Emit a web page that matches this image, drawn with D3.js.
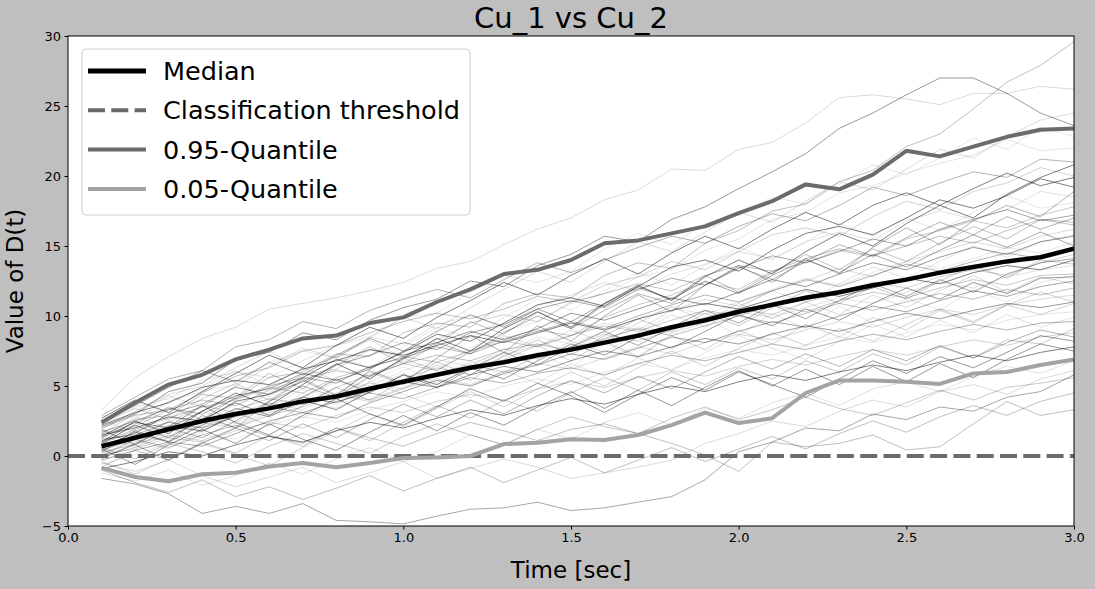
<!DOCTYPE html>
<html>
<head>
<meta charset="utf-8">
<script src="https://cdn.jsdelivr.net/npm/d3@7"></script>
<style>
  html, body { margin: 0; padding: 0; background: #bfbfbf; }
  svg { display: block; font-family: "DejaVu Sans", sans-serif; }
</style>
</head>
<body>
<svg id="chart"></svg>
<script>
// time grid of every simulated run (sec)
const times = [0.1, 0.2, 0.3, 0.4, 0.5, 0.6, 0.7, 0.8, 0.9, 1.0,
  1.1, 1.2, 1.3, 1.4, 1.5, 1.6, 1.7, 1.8, 1.9, 2.0,
  2.1, 2.2, 2.3, 2.4, 2.5, 2.6, 2.7, 2.8, 2.9, 3.0];

const medianValues = [0.7, 1.3, 1.9, 2.5, 3.0, 3.4, 3.9, 4.25, 4.8, 5.3,
  5.8, 6.3, 6.7, 7.2, 7.6, 8.1, 8.6, 9.2, 9.7, 10.3,
  10.8, 11.3, 11.7, 12.2, 12.6, 13.1, 13.5, 13.9, 14.2, 14.8];

const q95Values = [2.4, 3.8, 5.1, 5.8, 6.9, 7.6, 8.4, 8.6, 9.5, 9.9,
  11.0, 11.9, 13.0, 13.3, 14.0, 15.2, 15.4, 15.9, 16.4, 17.35,
  18.2, 19.4, 19.05, 20.1, 21.8, 21.4, 22.1, 22.8, 23.3, 23.4];

const q05Values = [-0.85, -1.5, -1.8, -1.3, -1.2, -0.75, -0.5, -0.8, -0.5, -0.15,
  -0.1, 0.0, 0.85, 0.95, 1.2, 1.15, 1.5, 2.2, 3.1, 2.35,
  2.7, 4.5, 5.4, 5.4, 5.3, 5.15, 5.9, 6.0, 6.5, 6.9];

const thresholdValue = 0;

const runs = [
  [1.4, 2.6, 2.9, 4.4, 4.1, 5.6, 6.0, 7.3, 7.1, 8.8, 9.5, 9.2, 10.9, 11.6, 11.3, 12.9, 13.8, 13.4, 15.2, 16.1, 17.5, 18.0, 19.6, 20.4, 22.1, 23.0, 24.8, 26.7, 27.9, 29.6],
  [3.3, 5.6, 7.1, 8.4, 9.2, 10.5, 10.9, 11.3, 11.8, 12.4, 13.4, 13.9, 15.1, 16.2, 17.0, 18.3, 19.0, 20.5, 20.4, 21.9, 22.4, 23.8, 25.6, 25.8, 25.5, 25.1, 25.9, 25.9, 26.4, 26.2],
  [2.1, 3.0, 4.6, 5.2, 6.9, 7.4, 8.8, 8.3, 9.7, 10.6, 11.2, 12.5, 12.1, 13.6, 14.4, 15.7, 15.3, 16.9, 17.8, 19.1, 20.3, 21.6, 23.4, 24.5, 25.8, 27.0, 27.0, 25.9, 24.5, 23.6],
  [1.8, 2.2, 3.9, 4.6, 5.1, 6.7, 7.5, 7.0, 8.4, 9.9, 10.2, 11.7, 12.9, 12.4, 13.2, 14.8, 15.9, 15.1, 16.6, 17.2, 18.5, 18.0, 19.4, 20.8, 20.1, 21.3, 22.7, 21.9, 23.5, 22.8],
  [2.9, 4.2, 5.5, 6.1, 7.8, 8.3, 9.6, 9.1, 10.4, 11.2, 11.9, 11.3, 12.6, 13.8, 13.1, 14.0, 14.9, 15.7, 15.2, 16.4, 17.3, 16.8, 17.9, 19.2, 18.6, 19.5, 20.3, 19.9, 21.2, 21.0],
  [0.9, 1.8, 2.4, 3.6, 3.1, 4.5, 5.8, 6.2, 7.6, 7.1, 8.3, 9.5, 10.1, 9.6, 11.0, 12.2, 12.8, 13.9, 13.3, 14.6, 15.8, 16.3, 15.7, 17.1, 18.2, 17.6, 18.9, 19.5, 20.6, 20.0],
  [1.5, 2.0, 2.8, 2.5, 3.9, 4.4, 5.6, 6.9, 6.3, 7.4, 8.7, 8.2, 9.5, 10.8, 11.3, 10.7, 12.1, 13.5, 14.0, 13.2, 14.7, 15.9, 16.4, 15.8, 17.0, 18.3, 17.7, 18.6, 19.8, 19.2],
  [2.4, 3.5, 4.1, 5.4, 6.0, 5.6, 6.8, 7.9, 8.5, 8.0, 9.4, 10.0, 9.3, 10.7, 11.5, 12.4, 11.8, 13.0, 13.7, 14.6, 14.1, 15.3, 16.0, 15.4, 16.8, 17.5, 16.9, 17.6, 18.9, 18.5],
  [0.4, 1.3, 2.2, 2.0, 3.3, 4.1, 3.7, 4.9, 5.8, 6.6, 6.1, 7.5, 8.4, 9.0, 8.6, 9.9, 10.8, 11.5, 12.4, 11.9, 13.2, 13.8, 14.7, 14.2, 15.5, 16.1, 16.8, 16.3, 17.2, 17.8],
  [1.1, 1.6, 3.0, 3.7, 4.9, 4.4, 5.3, 6.5, 7.2, 8.1, 7.6, 8.8, 9.4, 10.5, 11.1, 10.6, 11.9, 12.7, 12.2, 13.4, 14.3, 13.8, 14.6, 15.5, 15.0, 16.2, 16.9, 17.6, 16.8, 17.2],
  [2.0, 2.9, 3.3, 4.5, 5.7, 6.3, 7.5, 7.9, 8.8, 9.6, 10.2, 9.8, 10.5, 11.4, 11.0, 11.6, 12.3, 11.8, 12.9, 13.6, 13.2, 14.1, 14.8, 14.3, 15.0, 15.7, 15.2, 16.1, 16.9, 16.7],
  [0.2, 0.9, 1.4, 2.6, 2.1, 3.3, 3.9, 3.4, 4.6, 5.5, 6.3, 5.8, 7.2, 7.9, 8.6, 9.5, 9.0, 10.4, 11.2, 10.7, 11.8, 12.5, 13.4, 12.8, 13.9, 14.6, 15.3, 14.8, 15.7, 16.2],
  [1.3, 2.4, 2.0, 3.2, 4.3, 4.8, 5.9, 5.4, 6.2, 7.5, 8.1, 8.9, 8.3, 9.1, 10.2, 9.7, 10.5, 11.3, 10.8, 11.7, 12.6, 12.1, 13.0, 13.8, 13.3, 14.2, 14.9, 14.4, 15.3, 15.7],
  [0.7, 1.0, 1.9, 2.8, 2.3, 3.7, 4.2, 5.3, 5.0, 6.1, 6.9, 6.4, 7.3, 8.5, 8.0, 8.9, 9.8, 10.6, 10.1, 11.0, 11.9, 12.7, 12.2, 13.1, 13.9, 13.4, 14.1, 14.9, 14.5, 15.3],
  [1.7, 2.5, 3.4, 3.0, 4.1, 5.0, 5.6, 5.2, 6.4, 7.0, 7.8, 7.3, 8.2, 8.9, 9.6, 9.1, 10.0, 10.8, 11.5, 11.0, 11.8, 12.6, 12.1, 12.9, 13.7, 13.2, 13.9, 14.5, 14.1, 14.9],
  [0.0, 0.6, 1.5, 1.1, 2.0, 2.9, 3.5, 4.4, 4.0, 4.9, 5.7, 6.5, 6.0, 7.1, 7.8, 8.7, 8.2, 9.0, 9.9, 10.5, 10.1, 11.0, 11.6, 12.4, 12.0, 12.8, 13.3, 12.9, 13.8, 14.4],
  [2.2, 3.1, 3.8, 4.9, 5.4, 5.1, 6.2, 6.8, 7.6, 7.2, 7.9, 8.6, 8.1, 8.8, 9.5, 9.0, 9.8, 10.4, 10.9, 10.5, 11.2, 11.9, 11.4, 12.0, 12.7, 12.3, 13.1, 13.6, 13.3, 14.0],
  [0.5, 1.4, 1.1, 2.3, 3.0, 3.8, 3.3, 4.5, 5.2, 4.8, 5.9, 6.6, 7.4, 7.0, 7.8, 8.3, 9.2, 8.8, 9.5, 10.3, 9.9, 10.6, 11.3, 10.9, 11.7, 12.4, 12.0, 12.8, 13.3, 13.6],
  [1.0, 1.9, 2.7, 3.5, 4.0, 4.9, 4.5, 5.6, 6.3, 7.1, 6.7, 7.5, 8.2, 7.8, 8.6, 9.3, 8.9, 9.7, 10.4, 10.0, 10.8, 10.3, 11.1, 11.7, 11.3, 12.0, 12.6, 12.2, 12.9, 13.0],
  [-0.3, 0.4, 1.0, 0.7, 1.6, 2.5, 3.1, 2.7, 3.8, 4.6, 5.4, 5.0, 5.9, 6.5, 7.3, 6.9, 7.7, 8.5, 8.1, 8.9, 9.6, 9.2, 10.0, 10.7, 10.3, 11.1, 11.8, 11.4, 12.1, 12.5],
  [1.6, 2.1, 3.3, 4.0, 3.6, 4.7, 5.5, 6.1, 5.7, 6.6, 7.2, 6.8, 7.6, 8.0, 7.5, 8.4, 9.1, 8.6, 9.3, 10.0, 9.5, 10.2, 10.9, 10.4, 11.0, 11.6, 11.2, 11.9, 11.5, 12.0],
  [0.3, 0.8, 1.7, 2.4, 2.0, 3.1, 3.7, 4.3, 3.9, 4.8, 5.5, 5.1, 6.0, 6.6, 6.2, 7.0, 7.8, 7.3, 8.1, 8.7, 8.3, 9.0, 9.6, 9.2, 9.9, 10.5, 10.1, 10.8, 11.2, 11.5],
  [0.8, 1.2, 2.1, 1.8, 2.9, 3.4, 4.2, 3.8, 4.7, 5.3, 4.9, 5.8, 6.4, 6.0, 6.8, 7.5, 7.1, 7.8, 8.4, 8.0, 8.7, 9.3, 8.9, 9.6, 10.2, 9.8, 10.4, 10.9, 10.6, 11.0],
  [-0.6, 0.1, 0.9, 1.5, 1.2, 2.2, 2.8, 2.4, 3.3, 3.9, 4.6, 4.2, 5.0, 5.5, 5.1, 6.0, 6.6, 6.2, 7.0, 7.6, 7.2, 7.9, 8.5, 8.1, 8.8, 9.4, 9.0, 9.7, 10.1, 10.3],
  [1.2, 1.5, 2.4, 2.0, 2.8, 3.5, 3.1, 3.9, 4.5, 4.1, 4.9, 5.6, 5.2, 5.9, 6.3, 5.8, 6.6, 7.2, 6.8, 7.4, 8.0, 7.6, 8.2, 8.7, 8.3, 8.9, 9.4, 9.0, 9.5, 9.6],
  [0.1, 0.5, 1.3, 1.0, 1.8, 2.4, 2.0, 2.9, 3.5, 3.1, 3.9, 4.4, 4.0, 4.8, 5.3, 4.9, 5.6, 6.1, 5.7, 6.4, 6.9, 6.5, 7.1, 7.6, 7.2, 7.8, 8.3, 7.9, 8.5, 8.8],
  [-0.9, -0.4, 0.3, 0.0, 0.8, 1.4, 1.0, 1.8, 2.4, 2.0, 2.7, 3.3, 2.9, 3.6, 4.1, 3.7, 4.4, 5.0, 4.6, 5.3, 5.8, 5.4, 6.0, 6.5, 6.1, 6.7, 7.2, 6.8, 7.4, 7.8],
  [-1.2, -1.8, -1.0, -2.1, -1.4, -0.5, -1.3, -0.2, 0.6, -0.4, 0.3, 1.5, 0.8, 1.9, 1.2, 2.4, 3.1, 2.2, 3.4, 2.7, 3.8, 4.5, 3.6, 4.8, 5.3, 4.6, 5.7, 6.4, 5.9, 6.8],
  [0.6, -0.2, 0.9, 0.3, -0.5, 0.7, 1.6, 0.9, 0.2, 1.4, 2.3, 1.5, 0.8, 1.9, 2.8, 2.1, 1.6, 2.7, 3.5, 2.6, 3.3, 4.2, 3.4, 2.9, 3.8, 4.7, 4.0, 4.9, 5.2, 5.6],
  [-1.6, -2.0, -2.7, -4.1, -3.6, -4.1, -3.4, -4.6, -4.7, -4.85, -4.3, -3.8, -3.7, -3.3, -3.9, -3.7, -3.3, -2.9, -1.7, 0.3, 1.0, 2.0, 1.8, 3.0, 2.6, 3.5, 3.2, 4.2, 4.6, 5.8],
  [0.4, 1.2, 0.6, 1.5, 2.2, 1.4, 0.9, 2.0, 1.3, 0.7, 1.6, 2.4, 1.8, 1.1, 1.9, 2.3, 1.6, 0.9, 0.07, -1.1, 1.0, 0.66, 0.9, 1.5, 0.43, 0.66, 2.3, 3.9, 2.9, 3.3],
  [-0.5, -1.1, -0.3, -1.4, -2.2, -1.5, -0.8, -1.9, -1.2, -0.4, -1.6, -0.9, -0.2, -0.8, -1.6, -1.2, -0.8, -0.3, 0.9, 1.6, 2.5, 2.1, 3.2, 4.0, 3.5, 4.6, 5.1, 4.4, 5.5, 6.1],
  [1.9, 0.8, 2.1, 3.6, 2.4, 1.5, 2.9, 4.1, 3.0, 2.2, 3.5, 4.8, 3.9, 5.2, 4.3, 3.1, 4.4, 5.6, 4.7, 6.0, 5.1, 4.2, 5.5, 6.8, 5.9, 7.1, 6.3, 7.4, 8.6, 8.2],
  [2.6, 1.7, 3.0, 2.1, 3.8, 2.9, 4.5, 3.6, 5.3, 6.4, 5.2, 6.8, 5.7, 7.4, 6.3, 8.1, 7.0, 8.8, 9.9, 8.6, 10.2, 9.1, 10.7, 9.5, 11.3, 10.4, 11.9, 11.0, 12.4, 12.9],
  [0.3, 1.8, 1.0, 2.9, 2.0, 3.9, 5.4, 4.3, 6.1, 5.2, 7.0, 8.6, 7.4, 9.3, 8.2, 10.0, 11.5, 10.3, 12.2, 13.6, 12.4, 14.1, 13.0, 14.9, 16.3, 15.1, 16.8, 17.9, 17.1, 18.9],
  [2.3, 3.4, 2.6, 4.1, 5.2, 4.0, 5.5, 4.4, 6.0, 5.1, 6.5, 5.4, 6.9, 7.9, 6.8, 8.2, 7.1, 8.6, 7.6, 9.0, 8.0, 9.4, 8.5, 9.9, 9.0, 10.4, 9.5, 10.8, 10.1, 10.9],
  [1.0, 2.5, 1.6, 3.2, 4.5, 3.6, 5.1, 6.6, 5.5, 7.0, 8.4, 7.5, 9.1, 10.3, 9.2, 10.9, 12.2, 11.1, 12.8, 14.0, 13.0, 14.6, 15.9, 15.0, 16.6, 17.9, 17.0, 18.7, 19.9, 20.8],
  [1.4, 2.7, 3.9, 4.8, 6.1, 5.0, 6.3, 5.4, 4.7, 5.9, 5.1, 6.4, 7.7, 6.9, 8.2, 7.4, 8.8, 10.1, 9.2, 10.6, 11.8, 11.0, 12.3, 13.5, 12.7, 13.9, 15.0, 14.2, 15.3, 15.8],
  [-0.8, 0.4, -0.3, 1.0, 0.2, 1.5, 0.7, 2.0, 1.1, 2.4, 3.6, 2.7, 4.0, 3.2, 4.5, 5.6, 4.7, 6.0, 5.1, 6.3, 5.5, 6.8, 6.0, 7.3, 6.5, 7.8, 7.0, 8.3, 8.0, 9.1],
  [0.9, 2.2, 1.3, 2.6, 3.8, 2.9, 4.2, 5.5, 4.5, 5.8, 4.9, 6.2, 7.4, 6.5, 7.8, 8.9, 7.9, 9.2, 10.4, 9.5, 10.8, 9.8, 11.1, 12.3, 11.4, 12.6, 11.7, 13.0, 13.8, 14.1],
  [0.8, 2.3, 3.5, 2.6, 4.2, 5.9, 4.8, 6.5, 7.8, 6.6, 8.0, 9.6, 8.7, 10.3, 9.1, 10.8, 12.0, 11.2, 12.9, 11.7, 13.1, 14.4, 13.3, 14.8, 13.9, 15.2, 16.4, 15.5, 16.9, 16.5],
  [1.9, 3.2, 4.4, 5.0, 6.3, 7.5, 6.2, 7.1, 8.3, 7.0, 6.1, 7.4, 8.6, 7.8, 9.0, 8.1, 9.5, 10.7, 9.6, 10.9, 9.8, 11.0, 10.1, 11.5, 10.6, 11.8, 12.9, 11.7, 12.8, 12.3],
  [0.5, -0.6, 0.8, 1.9, 0.9, 2.3, 1.2, 0.4, 1.7, 2.9, 1.8, 3.1, 2.2, 3.5, 4.6, 3.4, 4.7, 3.6, 4.9, 6.1, 5.0, 6.2, 5.1, 6.4, 5.3, 6.6, 5.6, 6.9, 8.0, 7.5],
  [0.2, 1.1, 0.5, 1.8, 2.9, 3.5, 4.8, 4.1, 5.6, 6.8, 6.2, 7.7, 8.9, 9.6, 10.9, 11.6, 12.8, 13.3, 14.7, 15.5, 16.9, 17.4, 18.8, 19.3, 20.2, 20.9, 21.5, 22.6, 21.8, 22.0],
  [-0.2, 0.9, 2.0, 1.3, 2.5, 3.9, 5.0, 4.2, 5.7, 6.9, 8.1, 7.3, 8.8, 10.0, 9.1, 10.4, 11.6, 10.9, 12.2, 13.5, 12.6, 13.9, 15.1, 14.3, 15.6, 16.7, 15.8, 17.1, 16.2, 17.0],
  [-0.4, -1.3, -0.2, 0.9, 0.1, -0.7, 0.6, 1.8, 3.0, 2.1, 3.4, 4.6, 3.5, 4.8, 6.0, 5.0, 6.3, 7.5, 6.4, 7.7, 8.8, 7.9, 9.1, 8.2, 9.4, 10.5, 9.6, 10.8, 11.7, 11.0],
  [2.7, 4.0, 3.1, 4.6, 5.9, 7.2, 6.3, 7.9, 9.2, 8.4, 9.9, 11.1, 12.4, 11.5, 12.9, 14.1, 13.0, 14.5, 15.7, 14.8, 16.2, 17.4, 16.5, 17.9, 18.8, 17.9, 19.1, 20.2, 19.3, 19.9],
  [1.5, 0.6, 1.9, 3.2, 2.4, 3.8, 2.7, 4.0, 5.3, 4.4, 3.5, 4.9, 6.1, 5.2, 6.6, 5.7, 7.0, 6.1, 7.4, 8.6, 7.7, 6.9, 8.2, 9.4, 8.5, 9.7, 8.8, 10.1, 9.2, 9.9],
  [0.0, 1.2, 2.5, 1.7, 3.1, 2.2, 3.6, 4.9, 4.0, 5.4, 6.7, 5.8, 7.1, 8.3, 7.2, 8.6, 9.8, 8.9, 10.2, 9.3, 10.6, 11.8, 10.9, 12.1, 11.2, 12.5, 13.6, 12.7, 14.0, 13.7],
  [2.5, 3.6, 4.9, 6.1, 5.3, 6.7, 5.8, 7.2, 8.4, 7.5, 8.9, 10.1, 9.2, 10.5, 9.6, 10.9, 12.1, 11.2, 12.5, 11.6, 12.9, 14.0, 13.1, 14.4, 13.5, 14.7, 15.8, 14.9, 16.0, 15.0],
  [-1.0, -1.9, -2.6, -1.7, -2.9, -2.2, -3.1, -2.3, -1.4, -2.5, -1.6, -0.8, -1.9, -1.0, -0.1, -1.2, -0.3, 0.6, -0.4, 0.5, 1.4, 0.5, 1.6, 2.5, 1.7, 2.8, 3.6, 2.9, 3.9, 4.5],
  [1.6, 3.0, 4.3, 3.5, 5.0, 6.4, 7.7, 7.0, 8.5, 9.9, 9.1, 10.6, 11.9, 13.2, 12.4, 13.9, 15.3, 14.6, 16.0, 17.4, 16.7, 18.2, 19.6, 19.0, 20.5, 21.9, 21.3, 22.8, 24.0, 24.5],
  [0.6, 1.7, 1.0, 2.2, 3.4, 2.8, 4.0, 3.3, 4.6, 5.8, 5.1, 6.3, 5.5, 6.8, 8.0, 7.2, 8.5, 7.7, 8.9, 10.1, 9.3, 10.5, 9.7, 10.9, 12.0, 11.2, 12.4, 11.6, 12.7, 12.8],
  [1.3, 2.8, 2.0, 3.5, 5.0, 4.2, 5.7, 7.1, 6.3, 7.8, 9.2, 8.4, 9.9, 11.2, 10.4, 11.8, 13.1, 12.2, 13.6, 14.9, 14.0, 15.3, 16.6, 15.7, 17.0, 16.1, 17.4, 18.6, 17.7, 18.1],
  [-0.1, 0.8, -0.3, 0.9, 2.0, 1.1, 2.3, 1.3, 2.6, 3.7, 2.8, 4.0, 3.0, 4.3, 5.4, 4.5, 5.7, 4.8, 6.0, 7.1, 6.2, 7.3, 6.4, 7.6, 6.8, 7.9, 7.0, 8.1, 9.0, 8.5]
];

const xTicks = [0, 0.5, 1.0, 1.5, 2.0, 2.5, 3.0];
const yTicks = [-5, 0, 5, 10, 15, 20, 25, 30];
const legendLabels = ['Median', 'Classification threshold', '0.95-Quantile', '0.05-Quantile'];

/////////////////////// layout ///////////////////////
const width = 1095, height = 589;
const margin = {top: 36, right: 21, bottom: 63, left: 68};
const runShade = [0.25, 0.15, 0.4, 0.1, 0.3, 0.18, 0.5, 0.12, 0.22, 0.35];

const svg = d3.select('#chart').attr('width', width).attr('height', height);
svg.append('rect').attr('width', width).attr('height', height).attr('fill', '#bfbfbf');

const xScale = d3.scaleLinear().domain([0, 3]).range([margin.left, width - margin.right]);
const yScale = d3.scaleLinear().domain([-5, 30]).range([height - margin.bottom, margin.top]);

svg.append('clipPath').attr('id', 'plotClip').append('rect')
  .attr('x', margin.left).attr('y', margin.top)
  .attr('width', width - margin.left - margin.right)
  .attr('height', height - margin.top - margin.bottom);

svg.append('rect')
  .attr('x', margin.left).attr('y', margin.top)
  .attr('width', width - margin.left - margin.right)
  .attr('height', height - margin.top - margin.bottom)
  .attr('fill', 'white');

const plot = svg.append('g').attr('clip-path', 'url(#plotClip)');
const line = d3.line().x((d, i) => xScale(times[i])).y(d => yScale(d));

plot.selectAll('.run')
  .data(runs)
  .enter()
  .append('path')
  .attr('class', 'run')
  .attr('fill', 'none')
  .attr('stroke', '#000')
  .attr('stroke-opacity', (d, i) => runShade[i % runShade.length])
  .attr('stroke-width', 1)
  .attr('d', line);

plot.append('path').datum(medianValues)
  .attr('fill', 'none').attr('stroke', '#000').attr('stroke-width', 4.5)
  .attr('stroke-linejoin', 'round').attr('d', line);

plot.append('line')
  .attr('x1', xScale(0)).attr('x2', xScale(3))
  .attr('y1', yScale(thresholdValue)).attr('y2', yScale(thresholdValue))
  .attr('stroke', '#6b6b6b').attr('stroke-width', 4)
  .attr('stroke-dasharray', '17,6.3');

plot.append('path').datum(q95Values)
  .attr('fill', 'none').attr('stroke', '#6b6b6b').attr('stroke-width', 4)
  .attr('stroke-linejoin', 'round').attr('d', line);

plot.append('path').datum(q05Values)
  .attr('fill', 'none').attr('stroke', '#a3a3a3').attr('stroke-width', 4)
  .attr('stroke-linejoin', 'round').attr('d', line);

/////////////////////// axes ///////////////////////
const xAxisG = svg.append('g')
  .attr('transform', `translate(0,${height - margin.bottom})`)
  .call(d3.axisBottom(xScale).tickValues(xTicks).tickFormat(d3.format('.1f'))
    .tickSize(3.5).tickPadding(3.5));
const yAxisG = svg.append('g')
  .attr('transform', `translate(${margin.left},0)`)
  .call(d3.axisLeft(yScale).tickValues(yTicks)
    .tickFormat(d => d < 0 ? '\u2212' + Math.abs(d) : d)
    .tickSize(3.5).tickPadding(3.5));
[xAxisG, yAxisG].forEach(g => {
  g.select('.domain').remove();
  g.selectAll('.tick text').attr('font-size', 13).attr('fill', '#000')
    .attr('font-family', '"DejaVu Sans", sans-serif');
  g.selectAll('.tick line').attr('stroke', '#000');
});

svg.append('rect')
  .attr('x', margin.left).attr('y', margin.top)
  .attr('width', width - margin.left - margin.right)
  .attr('height', height - margin.top - margin.bottom)
  .attr('fill', 'none').attr('stroke', '#000').attr('stroke-width', 1);

svg.append('text')
  .attr('x', (margin.left + width - margin.right) / 2).attr('y', 27.5)
  .attr('text-anchor', 'middle').attr('font-size', 29)
  .text('Cu_1 vs Cu_2');

svg.append('text')
  .attr('x', (margin.left + width - margin.right) / 2).attr('y', 578)
  .attr('text-anchor', 'middle').attr('font-size', 23)
  .text('Time [sec]');

svg.append('text')
  .attr('transform', `translate(23,${(margin.top + height - margin.bottom) / 2}) rotate(-90)`)
  .attr('text-anchor', 'middle').attr('font-size', 23)
  .text('Value of D(t)');

/////////////////////// legend ///////////////////////
const legendStyles = [
  {stroke: '#000', width: 5, dash: null},
  {stroke: '#6b6b6b', width: 4, dash: '17,6.3'},
  {stroke: '#6b6b6b', width: 4, dash: null},
  {stroke: '#a3a3a3', width: 4, dash: null}
];
const legendG = svg.append('g').attr('transform', 'translate(82,49)');
legendG.append('rect')
  .attr('width', 388).attr('height', 166).attr('rx', 4)
  .attr('fill', '#fff').attr('fill-opacity', 0.8)
  .attr('stroke', '#d0d0d0').attr('stroke-width', 1);
const legendItems = legendG.selectAll('.legend-item')
  .data(legendLabels)
  .enter()
  .append('g')
  .attr('class', 'legend-item')
  .attr('transform', (d, i) => `translate(0,${22 + i * 39.3})`);
legendItems.append('line')
  .attr('x1', 6).attr('x2', 64)
  .attr('stroke', (d, i) => legendStyles[i].stroke)
  .attr('stroke-width', (d, i) => legendStyles[i].width)
  .attr('stroke-dasharray', (d, i) => legendStyles[i].dash);
legendItems.append('text')
  .attr('x', 81).attr('dy', '0.35em')
  .attr('font-size', 25.5)
  .text(d => d);
</script>
</body>
</html>
